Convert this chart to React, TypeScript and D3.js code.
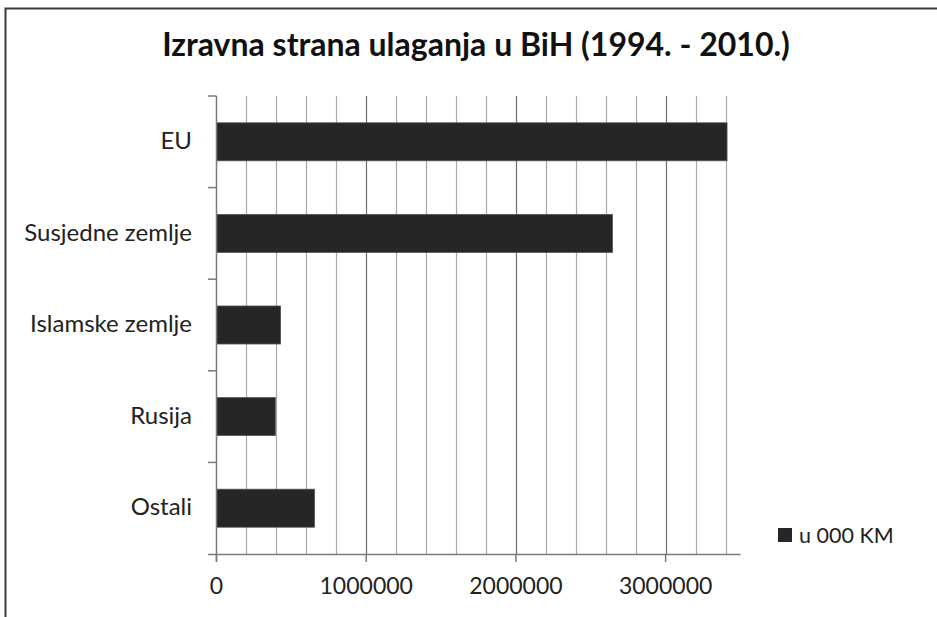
import * as d3 from "d3";
import { useEffect, useRef } from "react";

const categories = ["EU", "Susjedne zemlje", "Islamske zemlje", "Rusija", "Ostali"];
const values = [3410000, 2645000, 428000, 393000, 655000];
const seriesName = "u 000 KM";
const xTickValues = [0, 1000000, 2000000, 3000000];
const title = "Izravna strana ulaganja u BiH (1994. - 2010.)";

const App = () => {
  const ref = useRef<SVGSVGElement>(null);

  useEffect(() => {
    const svg = d3.select(ref.current);
    const width = 937;
    const height = 617;
    const font = "Lato, 'Open Sans', sans-serif";

    svg.attr("width", width).attr("height", height);

    // frame (only top and left edges visible)
    svg.append("rect").attr("width", width).attr("height", height).attr("fill", "#fff");
    svg
      .append("path")
      .attr("d", `M5.5,${height} V8.5 H${width}`)
      .attr("fill", "none")
      .attr("stroke", "#3a3a3a")
      .attr("stroke-width", 2);

    svg
      .append("text")
      .attr("x", 476)
      .attr("y", 56)
      .attr("text-anchor", "middle")
      .attr("font-family", font)
      .attr("font-weight", "bold")
      .attr("font-size", "32px")
      .attr("fill", "#111")
      .text(title);

    const x = d3.scaleLinear().domain([0, 3500000]).range([216.5, 740.5]);
    const y = d3
      .scaleBand<string>()
      .domain(categories)
      .range([96, 554])
      .paddingInner(0.585)
      .paddingOuter(0.2925);

    // gridlines every 200000
    const grid = d3.range(200000, 3400001, 200000);
    svg
      .append("g")
      .selectAll("line")
      .data(grid)
      .join("line")
      .attr("x1", (d) => Math.round(x(d)) + 0.5)
      .attr("x2", (d) => Math.round(x(d)) + 0.5)
      .attr("y1", 96)
      .attr("y2", 554)
      .attr("stroke", (d) => (d % 1000000 === 0 ? "#6e6e6e" : "#a8a8a8"))
      .attr("stroke-width", 1.2);

    // bars
    svg
      .append("g")
      .selectAll("rect")
      .data(categories)
      .join("rect")
      .attr("x", x(0))
      .attr("y", (d) => y(d)!)
      .attr("width", (_, i) => x(values[i]) - x(0))
      .attr("height", y.bandwidth())
      .attr("fill", "#262626")
      .attr("stroke", "#555")
      .attr("stroke-width", 0.8);

    // axes
    const axisColor = "#7a7a7a";
    svg
      .append("line")
      .attr("x1", 208)
      .attr("x2", 740.5)
      .attr("y1", 554.5)
      .attr("y2", 554.5)
      .attr("stroke", axisColor)
      .attr("stroke-width", 1.5);
    svg
      .append("line")
      .attr("x1", 216.5)
      .attr("x2", 216.5)
      .attr("y1", 96)
      .attr("y2", 562)
      .attr("stroke", axisColor)
      .attr("stroke-width", 1.5);

    // y tick marks at category boundaries
    const bounds = categories.map((c) => y(c)! - (y.step() * y.paddingInner()) / 2);
    svg
      .append("g")
      .selectAll("line")
      .data(bounds)
      .join("line")
      .attr("x1", 208)
      .attr("x2", 216.5)
      .attr("y1", (d) => d)
      .attr("y2", (d) => d)
      .attr("stroke", axisColor)
      .attr("stroke-width", 1.5);

    // x tick marks
    svg
      .append("g")
      .selectAll("line")
      .data(xTickValues)
      .join("line")
      .attr("x1", (d) => x(d))
      .attr("x2", (d) => x(d))
      .attr("y1", 554)
      .attr("y2", 562)
      .attr("stroke", axisColor)
      .attr("stroke-width", 1.5);

    svg
      .append("g")
      .selectAll("text")
      .data(xTickValues)
      .join("text")
      .attr("x", (d) => x(d))
      .attr("y", 594)
      .attr("text-anchor", "middle")
      .attr("font-family", font)
      .attr("font-size", "23px")
      .attr("fill", "#222")
      .text((d) => String(d));

    svg
      .append("g")
      .selectAll("text")
      .data(categories)
      .join("text")
      .attr("x", 192)
      .attr("y", (d) => y(d)! + y.bandwidth() / 2)
      .attr("dy", "0.3em")
      .attr("text-anchor", "end")
      .attr("font-family", font)
      .attr("font-size", "24px")
      .attr("fill", "#222")
      .text((d) => d);

    // legend
    svg
      .append("rect")
      .attr("x", 778)
      .attr("y", 528)
      .attr("width", 14)
      .attr("height", 14)
      .attr("fill", "#262626");
    svg
      .append("text")
      .attr("x", 799)
      .attr("y", 543)
      .attr("font-family", font)
      .attr("font-size", "21.5px")
      .attr("fill", "#222")
      .text(seriesName);

    return () => {
      svg.selectAll("*").remove();
    };
  }, []);

  return <svg ref={ref} style={{ position: "absolute", left: 0, top: 0 }}></svg>;
};

export default App;
